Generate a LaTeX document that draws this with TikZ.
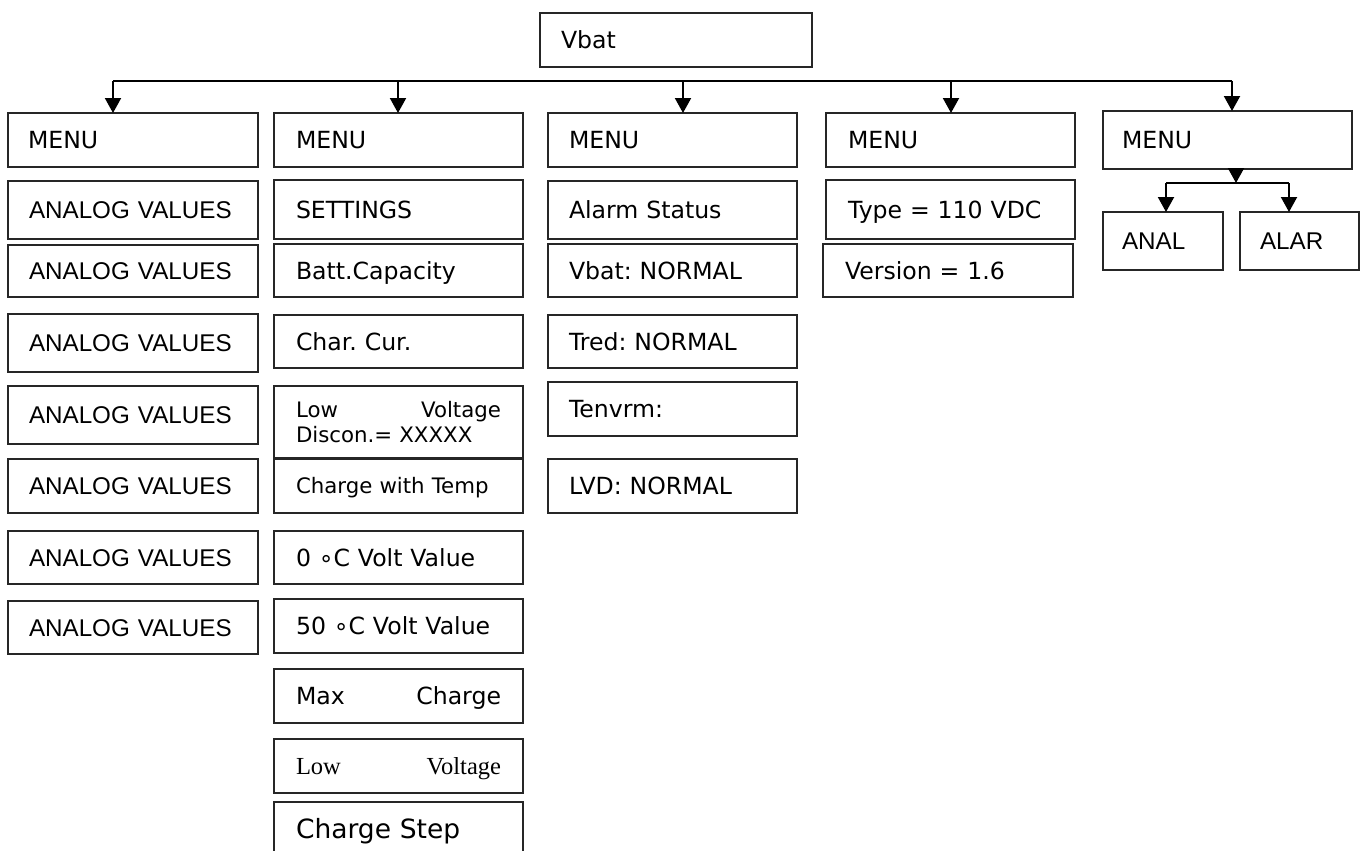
\documentclass[tikz,border=0pt]{standalone}
\usepackage{fontspec}
\setmainfont{DejaVu Sans}
\newfontfamily\arialf{Liberation Sans}
\newfontfamily\serif{Liberation Serif}
\usetikzlibrary{arrows.meta}
\frenchspacing

% box given by its corners (x1,y1)-(x2,y2) in px, left padding in px
\newcommand{\tbox}[8][]{%
  \pgfmathsetmacro\bxw{#5-#3}%
  \pgfmathsetmacro\bxh{#6-#4}%
  \pgfmathsetmacro\bxt{#5-#3-2*#7}%
  \node[box, minimum width=\bxw pt, minimum height=\bxh pt,
        text width=\bxt pt, inner xsep=#7pt, #1] (#2) at (#3,#4) {#8};}

\tikzset{
  box/.style={draw=black!85, line width=1.4pt, anchor=north west, outer sep=0pt,
    inner ysep=0pt, align=left, text height=17.2pt, text depth=0pt,
    font=\fontsize{23.6}{28}\selectfont},
  arl/.style={font=\arialf\fontsize{24.2}{28}\selectfont, text height=17.3pt},
  small/.style={font=\fontsize{21.3}{25}\selectfont, text height=15.5pt},
  conn/.style={line width=2pt},
  arr/.style={line width=2pt, -{Triangle[width=16pt,length=15pt]}},
}

\begin{document}
\begin{tikzpicture}[x=1pt,y=-1pt]
\useasboundingbox (0,0) rectangle (1363,851);

% root
\tbox{vbat}{540}{13}{812}{67}{21}{Vbat}

% column 1
\tbox{m1}{8}{113}{258}{167}{20}{MENU}
\tbox[arl]{a1}{8}{181}{258}{239}{21}{ANALOG VALUES}
\tbox[arl]{a2}{8}{245}{258}{297}{21}{ANALOG VALUES}
\tbox[arl]{a3}{8}{314}{258}{372}{21}{ANALOG VALUES}
\tbox[arl]{a4}{8}{386}{258}{444}{21}{ANALOG VALUES}
\tbox[arl]{a5}{8}{459}{258}{513}{21}{ANALOG VALUES}
\tbox[arl]{a6}{8}{531}{258}{584}{21}{ANALOG VALUES}
\tbox[arl]{a7}{8}{601}{258}{654}{21}{ANALOG VALUES}

% column 2
\tbox{m2}{274}{113}{523}{167}{22}{MENU}
\tbox{s1}{274}{180}{523}{239}{22}{SETTINGS}
\tbox{s2}{274}{244}{523}{297}{22}{Batt.Capacity}
\tbox{s3}{274}{315}{523}{368}{22}{Char. Cur.}
\tbox[small, text depth=25pt]{s4}{274}{386}{523}{459}{22}{Low\hfill Voltage\\Discon.= XXXXX}
\tbox[small]{s5}{274}{458}{523}{513}{22}{Charge with Temp}
\tbox{s6}{274}{531}{523}{584}{22}{0 ∘C Volt Value}
\tbox{s7}{274}{599}{523}{653}{22}{50 ∘C Volt Value}
\tbox{s8}{274}{669}{523}{723}{22}{Max\hfill Charge}
\tbox[font=\serif\fontsize{24.5}{28}\selectfont, text height=16.2pt]{s9}{274}{739}{523}{793}{22}{Low\hfill Voltage}
\tbox[font=\fontsize{26.5}{31}\selectfont, text height=19.3pt]{s10}{274}{802}{523}{856}{22}{Charge Step}

% column 3
\tbox{m3}{548}{113}{797}{167}{21}{MENU}
\tbox{r1}{548}{181}{797}{239}{21}{Alarm Status}
\tbox{r2}{548}{244}{797}{297}{21}{Vbat: NORMAL}
\tbox{r3}{548}{315}{797}{368}{21}{Tred: NORMAL}
\tbox{r4}{548}{382}{797}{436}{21}{Tenvrm:}
\tbox{r5}{548}{459}{797}{513}{21}{LVD: NORMAL}

% column 4
\tbox{m4}{826}{113}{1075}{167}{22}{MENU}
\tbox{v1}{826}{180}{1075}{239}{22}{Type = 110 VDC}
\tbox{v2}{823}{244}{1073}{297}{22}{Version = 1.6}

% column 5
\tbox{m5}{1103}{111}{1352}{169}{19}{MENU}
\tbox[arl]{an}{1103}{212}{1223}{270}{19}{ANAL}
\tbox[arl]{al}{1240}{212}{1359}{270}{20}{ALAR}

% distribution line under the root
\coordinate (t1) at (113,81);
\coordinate (t2) at (398,81);
\coordinate (t3) at (683,81);
\coordinate (t4) at (951,81);
\coordinate (t5) at (1232,81);
\draw[conn] (t1) -- (t5);
\draw[arr] (t1) -- (t1 |- m1.north);
\draw[arr] (t2) -- (t2 |- m2.north);
\draw[arr] (t3) -- (t3 |- m3.north);
\draw[arr] (t4) -- (t4 |- m4.north);
\draw[arr] (t5) -- (t5 |- m5.north);

% branch below the last menu
\coordinate (bt) at (1236,183);
\coordinate (bl) at (1166,183);
\coordinate (br) at (1289,183);
\draw[arr] (bt |- m5.south) -- (bt);
\draw[conn] (bl) -- (br);
\draw[arr] (bl) -- (bl |- an.north);
\draw[arr] (br) -- (br |- al.north);
\end{tikzpicture}
\end{document}
